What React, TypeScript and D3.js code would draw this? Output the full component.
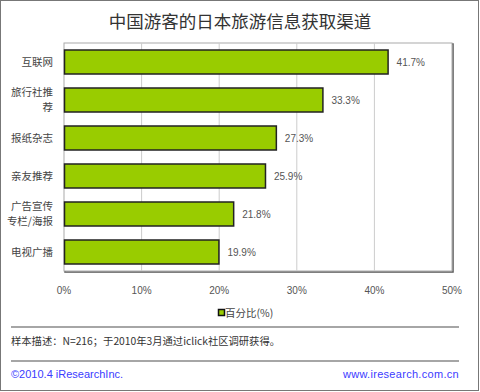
import React from 'react';
import * as d3 from 'd3';

const title = '中国游客的日本旅游信息获取渠道';
const categories = ['互联网', '旅行社推\n荐', '报纸杂志', '亲友推荐', '广告宣传\n专栏/海报', '电视广播'];
const values = [41.7, 33.3, 27.3, 25.9, 21.8, 19.9];
const xTicks = [0, 10, 20, 30, 40, 50];
const legendLabel = '百分比(%)';
const note = '样本描述：N=216；于2010年3月通过iclick社区调研获得。';
const footLeft = '©2010.4 iResearchInc.';
const footRight = 'www.iresearch.com.cn';

const W = 480;
const H = 392;
const margin = { top: 43, right: 28, bottom: 121, left: 64 };
const cjk = '"Noto Sans CJK SC", sans-serif';
const latin = '"Liberation Sans", "Noto Sans CJK SC", sans-serif';

const App = () => {
  const plotW = W - margin.left - margin.right;
  const plotH = H - margin.top - margin.bottom;

  const x = d3.scaleLinear().domain([0, 50]).range([0, plotW]);
  const y = d3.scaleBand().domain(categories).range([0, plotH]).paddingInner(14 / 38).paddingOuter(7 / 38);

  return (
    <svg width={W} height={H} style={{ position: 'absolute', left: 0, top: 0, background: '#fff' }}>
      <rect x={0.5} y={0.5} width={W - 2} height={H - 2} fill="#fff" stroke="#777" />
      <text x={W / 2} y={28} textAnchor="middle" fontFamily={cjk} fontSize={17.5} fill="#333">
        {title}
      </text>

      <g transform={`translate(${margin.left},${margin.top})`}>
        <rect x={1} y={1} width={plotW} height={plotH} fill="none" stroke="#555" strokeWidth={1.5} />
        <rect x={0} y={0} width={plotW} height={plotH} fill="#fff" stroke="#aaa" />
        {xTicks.slice(1, -1).map((t) => (
          <line key={t} x1={x(t)} x2={x(t)} y1={0} y2={plotH} stroke="#ccc" />
        ))}
        {categories.map((c, i) => {
          const lines = c.split('\n');
          const cy = (y(c) as number) + y.bandwidth() / 2;
          return (
            <g key={c}>
              <rect
                x={0.5}
                y={y(c)}
                width={x(values[i])}
                height={y.bandwidth()}
                fill="#99cc00"
                stroke="#222"
                strokeWidth={1.5}
              />
              <text
                x={x(values[i]) + 9}
                y={cy}
                dy="0.35em"
                fontFamily={latin}
                fontSize={10}
                fill="#555"
              >
                {values[i].toFixed(1)}%
              </text>
              {lines.map((l, j) => (
                <text
                  key={j}
                  x={-11}
                  y={cy + (j - (lines.length - 1) / 2) * 15}
                  dy="0.35em"
                  textAnchor="end"
                  fontFamily={cjk}
                  fontSize={10.5}
                  fill="#444"
                >
                  {l}
                </text>
              ))}
            </g>
          );
        })}
        {xTicks.map((t) => (
          <text
            key={t}
            x={x(t)}
            y={plotH + 19}
            dy="0.35em"
            textAnchor="middle"
            fontFamily={latin}
            fontSize={10}
            fill="#555"
          >
            {t}%
          </text>
        ))}
      </g>

      <rect x={218.5} y={309.5} width={6} height={6} fill="#99cc00" stroke="#111" strokeWidth={1.5} />
      <text x={225} y={313} dy="0.35em" fontFamily={cjk} fontSize={10.5} fill="#444">
        {legendLabel}
      </text>

      <line x1={11} x2={459} y1={327} y2={327} stroke="#888" strokeWidth={1.5} />
      <text x={11} y={341} dy="0.35em" fontFamily={cjk} fontSize={10.3} fill="#333">
        {note}
      </text>
      <line x1={11} x2={459} y1={361} y2={361} stroke="#888" strokeWidth={1.5} />
      <text x={11} y={374} dy="0.35em" fontFamily={latin} fontSize={11} fill="#3b3bff">
        {footLeft}
      </text>
      <text x={459} y={374} dy="0.35em" textAnchor="end" fontFamily={latin} fontSize={11} letterSpacing={0.3} fill="#3b3bff">
        {footRight}
      </text>
    </svg>
  );
};

export default App;
